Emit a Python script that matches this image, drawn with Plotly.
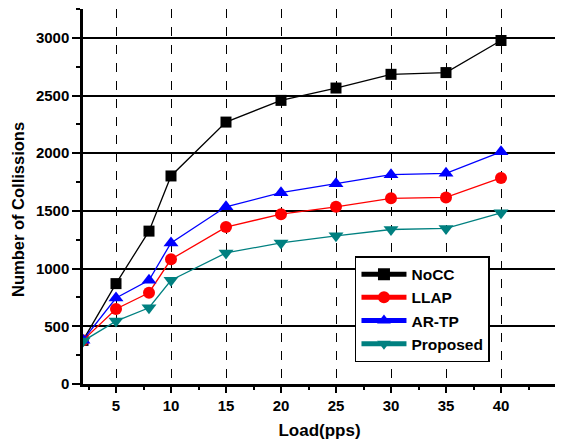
import plotly.graph_objects as go

load = [2, 5, 8, 10, 15, 20, 25, 30, 35, 40]
nocc = [378, 870, 1325, 1803, 2270, 2458, 2565, 2684, 2699, 2977]
llap = [378, 650, 791, 1081, 1360, 1472, 1536, 1609, 1617, 1786]
artp = [380, 745, 899, 1223, 1536, 1658, 1736, 1814, 1826, 2012]
proposed = [372, 545, 661, 899, 1136, 1223, 1284, 1339, 1348, 1484]

series = [
    ("NoCC", nocc, "black", "square", 11),
    ("LLAP", llap, "#FF0000", "circle", 12),
    ("AR-TP", artp, "#0000FF", "triangle-up", 13),
    ("Proposed", proposed, "#008080", "triangle-down", 13),
]

fig = go.Figure()
for name, vals, col, sym, sz in series:
    fig.add_trace(go.Scatter(
        x=load, y=vals, name=name, mode="lines+markers",
        line=dict(color=col, width=1.3),
        marker=dict(symbol=sym, size=sz, color=col),
        cliponaxis=True,
    ))

font = dict(family="Liberation Sans, Arial", color="black", weight="bold")

# page has an 8px body margin, so the figure is sized/offset to compensate
fig.update_layout(
    width=555, height=435,
    margin=dict(l=75, r=7, t=1, b=59),
    paper_bgcolor="white", plot_bgcolor="white",
    font=dict(family="Liberation Sans, Arial", color="black", size=15, weight="bold"),
    showlegend=True,
    legend=dict(
        x=0.575, y=0.341, xanchor="left", yanchor="top",
        bordercolor="black", borderwidth=1.5, bgcolor="white",
        font=dict(size=15.5, family="Liberation Sans, Arial", color="black", weight="bold"),
        tracegroupgap=0, itemsizing="constant", itemwidth=45,
        entrywidth=98, entrywidthmode="pixels",
    ),
    xaxis=dict(
        range=[2, 45], tick0=0, dtick=5, automargin=False,
        showline=True, linecolor="black", linewidth=2.5,
        ticks="outside", ticklen=6, tickwidth=2, tickcolor="black",
        minor=dict(dtick=2.5, tick0=0, ticks="outside", ticklen=3.5, tickwidth=2, tickcolor="black", showgrid=False),
        showgrid=True, gridcolor="black", gridwidth=1.2, griddash="dash",
        zeroline=False,
        tickfont=dict(size=15, **font),
        title=dict(text="Load(pps)", font=dict(size=17, **font), standoff=12),
    ),
    yaxis=dict(
        range=[0, 3250], tick0=0, dtick=500, automargin=False,
        showline=True, linecolor="black", linewidth=2.5,
        ticks="outside", ticklen=8, tickwidth=2, tickcolor="black",
        minor=dict(dtick=250, tick0=0, ticks="outside", ticklen=4, tickwidth=2, tickcolor="black", showgrid=False),
        showgrid=True, gridcolor="black", gridwidth=1.5,
        zeroline=False,
        tickfont=dict(size=15, **font),
    ),
    annotations=[dict(
        text="Number of Collissions", textangle=-90,
        xref="paper", yref="paper", x=-0.1374, y=0.464,
        xanchor="center", yanchor="middle", showarrow=False,
        font=dict(size=16.5, **font),
    )],
)

fig.write_html("out.html")
